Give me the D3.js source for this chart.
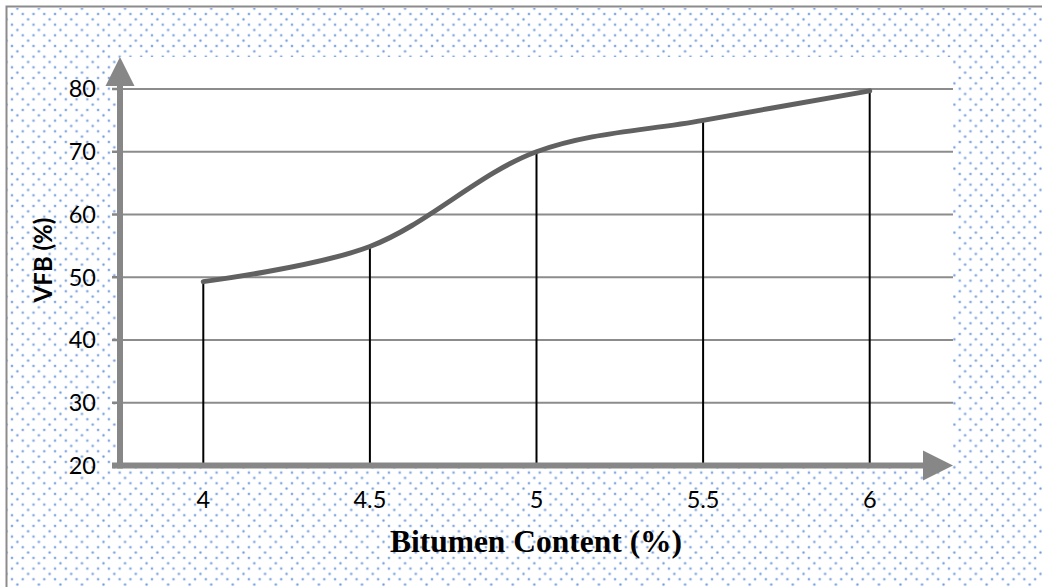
<!DOCTYPE html>
<html>
<head>
<meta charset="utf-8">
<script src="https://cdn.jsdelivr.net/npm/d3@7"></script>
<style>
  html, body { margin: 0; padding: 0; background: #ffffff; }
  svg { display: block; }
</style>
</head>
<body>
<svg id="chart" width="1042" height="587"></svg>
<script>
// Bitumen content (%) versus voids filled with bitumen (%)
const categories = ["4", "4.5", "5", "5.5", "6"];
const vfbValues = [49.3, 54.9, 70.0, 75.0, 79.7];
const yTicks = [20, 30, 40, 50, 60, 70, 80];
const xTitle = "Bitumen Content (%)";
const yTitle = "VFB (%)";

const W = 1042, H = 587;
const plot = { left: 120, right: 953, top: 57, bottom: 465.5 };

const svg = d3.select("#chart");
const defs = svg.append("defs");

// Dotted fill for the chart background
const pw = 21.54, ph = 21.33;
const pat = defs.append("pattern")
  .attr("id", "dots")
  .attr("patternUnits", "userSpaceOnUse")
  .attr("x", 1.2).attr("y", 14)
  .attr("width", pw).attr("height", ph);
const dotPts = [
  [0, 0], [pw / 2, 0], [pw, 0],
  [pw / 4, ph / 4],
  [0, ph / 2], [pw / 2, ph / 2], [pw, ph / 2],
  [pw * 3 / 4, ph * 3 / 4],
  [0, ph], [pw / 2, ph], [pw, ph]
];
dotPts.forEach(([x, y]) => {
  pat.append("circle").attr("cx", x).attr("cy", y).attr("r", 1.7)
    .attr("fill", "#d6e2f5");
  pat.append("circle").attr("cx", x).attr("cy", y).attr("r", 1.0)
    .attr("fill", "#6b97d9");
});

svg.append("rect").attr("x", 0).attr("y", 0).attr("width", W).attr("height", H)
  .attr("fill", "#ffffff");
svg.append("rect").attr("x", 7).attr("y", 8).attr("width", W).attr("height", H)
  .attr("fill", "url(#dots)");
// chart border
svg.append("rect").attr("x", 6.5).attr("y", 6.5).attr("width", W + 10).attr("height", H + 10)
  .attr("fill", "none").attr("stroke", "#8c8c8c").attr("stroke-width", 2);

// plot area
svg.append("rect")
  .attr("x", plot.left).attr("y", plot.top)
  .attr("width", plot.right - plot.left).attr("height", plot.bottom - plot.top)
  .attr("fill", "#ffffff");

const x = d3.scaleBand().domain(categories).range([plot.left, plot.right]);
const cx = c => x(c) + x.bandwidth() / 2;
const y = d3.scaleLinear().domain([20, 80]).range([plot.bottom, 89]);

// horizontal gridlines
svg.append("g").selectAll("line")
  .data(yTicks.filter(t => t > 20))
  .join("line")
  .attr("x1", plot.left).attr("x2", plot.right)
  .attr("y1", d => y(d)).attr("y2", d => y(d))
  .attr("stroke", "#8c8c8c").attr("stroke-width", 2);

// y tick marks
svg.append("g").selectAll("line")
  .data(yTicks)
  .join("line")
  .attr("x1", 112).attr("x2", plot.left)
  .attr("y1", d => y(d)).attr("y2", d => y(d))
  .attr("stroke", "#868686").attr("stroke-width", 2.5);

// drop lines from each point to the x axis
const data = categories.map((c, i) => ({ c, v: vfbValues[i] }));
svg.append("g").selectAll("line")
  .data(data)
  .join("line")
  .attr("x1", d => cx(d.c)).attr("x2", d => cx(d.c))
  .attr("y1", d => y(d.v)).attr("y2", plot.bottom)
  .attr("stroke", "#000000").attr("stroke-width", 2);

// axes with arrowheads
const axisCol = "#878787";
svg.append("line")
  .attr("x1", plot.left).attr("x2", plot.left)
  .attr("y1", plot.bottom + 3).attr("y2", 84)
  .attr("stroke", axisCol).attr("stroke-width", 6);
svg.append("line")
  .attr("x1", 112).attr("x2", 925)
  .attr("y1", plot.bottom).attr("y2", plot.bottom)
  .attr("stroke", axisCol).attr("stroke-width", 6);
svg.append("path")
  .attr("d", `M${plot.left},${plot.top} L${plot.left + 14.5},86 L${plot.left - 14.5},86 Z`)
  .attr("fill", axisCol);
svg.append("path")
  .attr("d", `M${plot.right},${plot.bottom} L923,${plot.bottom - 15} L923,${plot.bottom + 15} Z`)
  .attr("fill", axisCol);

// smoothed curve
const line = d3.line()
  .x(d => cx(d.c))
  .y(d => y(d.v))
  .curve(d3.curveCatmullRom.alpha(0.5));
svg.append("path")
  .datum(data)
  .attr("d", line)
  .attr("fill", "none")
  .attr("stroke", "#616161")
  .attr("stroke-width", 5)
  .attr("stroke-linecap", "round");

// tick labels
const tickFont = "Lato, 'Noto Sans', sans-serif";
svg.append("g").selectAll("text")
  .data(yTicks)
  .join("text")
  .attr("x", 96).attr("y", d => y(d))
  .attr("dy", "0.36em")
  .attr("text-anchor", "end")
  .attr("font-family", tickFont).attr("font-size", 23.5)
  .attr("fill", "#000")
  .text(d => d);

svg.append("g").selectAll("text")
  .data(categories)
  .join("text")
  .attr("x", d => cx(d)).attr("y", 508)
  .attr("text-anchor", "middle")
  .attr("font-family", tickFont).attr("font-size", 23.5)
  .attr("fill", "#000")
  .text(d => d);

// axis titles
svg.append("text")
  .attr("x", 536).attr("y", 552)
  .attr("text-anchor", "middle")
  .attr("font-family", "'Liberation Serif', 'Times New Roman', serif")
  .attr("font-weight", "bold").attr("font-size", 31.5)
  .attr("fill", "#000")
  .text(xTitle);

svg.append("text")
  .attr("transform", "translate(52,260) rotate(-90)")
  .attr("text-anchor", "middle")
  .attr("font-family", tickFont)
  .attr("font-weight", "bold").attr("font-size", 24)
  .attr("fill", "#000")
  .text(yTitle);
</script>
</body>
</html>
